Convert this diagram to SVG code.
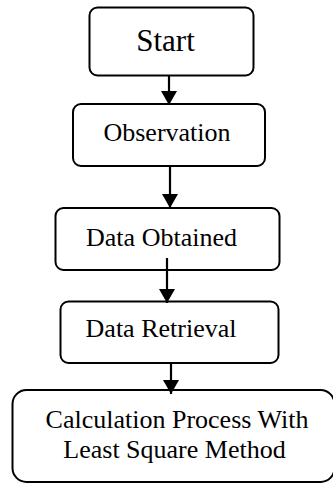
<svg xmlns="http://www.w3.org/2000/svg" width="333" height="484" viewBox="0 0 333 484">
<defs>
<style>
.box{fill:none;stroke:#000;stroke-width:2}
.t{font-family:"Liberation Serif","Times New Roman",serif;fill:#000;text-anchor:middle}
.c{stroke:#000;stroke-width:2.2;fill:none}
</style>
<marker id="ah" markerUnits="userSpaceOnUse" viewBox="0 0 14 16" refX="14" refY="8" markerWidth="14" markerHeight="16" orient="auto">
<path d="M0,0 L14,8 L0,16 z" fill="#000"/>
</marker>
</defs>
<g id="connectors">
<line class="c" x1="169" y1="76" x2="169" y2="105" marker-end="url(#ah)"/>
<line class="c" x1="170" y1="166" x2="170" y2="208" marker-end="url(#ah)"/>
<line class="c" x1="167" y1="258" x2="167" y2="303" marker-end="url(#ah)"/>
<line class="c" x1="171" y1="363" x2="171" y2="394" marker-end="url(#ah)"/>
</g>
<g id="start">
<rect class="box" x="89.5" y="7.5" width="164" height="68" rx="8"/>
<text class="t" x="165.5" y="51" font-size="31">Start</text>
</g>
<g id="observation">
<rect class="box" x="73" y="104" width="192" height="62" rx="8"/>
<text class="t" x="167" y="140.5" font-size="26">Observation</text>
</g>
<g id="data-obtained">
<rect class="box" x="55.5" y="208" width="224" height="62" rx="8"/>
<text class="t" x="161.5" y="246" font-size="26">Data Obtained</text>
</g>
<g id="data-retrieval">
<rect class="box" x="60.5" y="301.5" width="218" height="61.5" rx="8"/>
<text class="t" x="161" y="337" font-size="26">Data Retrieval</text>
</g>
<g id="calculation">
<rect class="box" x="12.5" y="390" width="322" height="92" rx="14"/>
<text class="t" x="177" y="428" font-size="26">Calculation Process With</text>
<text class="t" x="174.5" y="458" font-size="26">Least Square Method</text>
</g>
</svg>
